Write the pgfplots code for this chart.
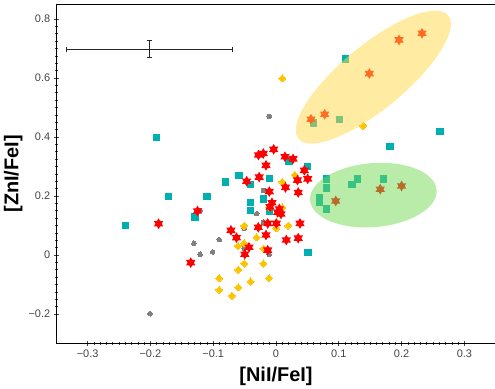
\documentclass[border=0pt]{standalone}
\usepackage{pgfplots}
\pgfplotsset{compat=1.18}
\usepackage{fontspec}
\setmainfont{Liberation Sans}
\usetikzlibrary{shapes.geometric}
\definecolor{cteal}{RGB}{0,176,176}
\definecolor{cgold}{RGB}{255,196,0}
\definecolor{cgray}{RGB}{128,128,128}
\definecolor{cred}{RGB}{255,0,0}
\definecolor{cyel}{RGB}{255,217,70}
\definecolor{cgrn}{RGB}{113,217,81}
\definecolor{ticklab}{RGB}{68,68,68}
\pgfdeclareplotmark{hexstar}{%
  \pgfpathmoveto{\pgfqpoint{0pt}{\pgfplotmarksize}}%
  \pgfpathlineto{\pgfqpoint{-0.288675\pgfplotmarksize}{0.5\pgfplotmarksize}}%
  \pgfpathlineto{\pgfqpoint{-0.866025\pgfplotmarksize}{0.5\pgfplotmarksize}}%
  \pgfpathlineto{\pgfqpoint{-0.57735\pgfplotmarksize}{0pt}}%
  \pgfpathlineto{\pgfqpoint{-0.866025\pgfplotmarksize}{-0.5\pgfplotmarksize}}%
  \pgfpathlineto{\pgfqpoint{-0.288675\pgfplotmarksize}{-0.5\pgfplotmarksize}}%
  \pgfpathlineto{\pgfqpoint{0pt}{-\pgfplotmarksize}}%
  \pgfpathlineto{\pgfqpoint{0.288675\pgfplotmarksize}{-0.5\pgfplotmarksize}}%
  \pgfpathlineto{\pgfqpoint{0.866025\pgfplotmarksize}{-0.5\pgfplotmarksize}}%
  \pgfpathlineto{\pgfqpoint{0.57735\pgfplotmarksize}{0pt}}%
  \pgfpathlineto{\pgfqpoint{0.866025\pgfplotmarksize}{0.5\pgfplotmarksize}}%
  \pgfpathlineto{\pgfqpoint{0.288675\pgfplotmarksize}{0.5\pgfplotmarksize}}%
  \pgfpathclose
  \pgfusepathqfill
}
\begin{document}
\begin{tikzpicture}
\begin{axis}[
  at={(56.2bp,45.5bp)}, anchor=south west,
  scale only axis, width=439.6bp, height=339.25bp,
  xmin=-0.35, xmax=0.35, ymin=-0.3, ymax=0.85,
  xtick={-0.3,-0.2,-0.1,0,0.1,0.2,0.3},
  xticklabels={−0.3,−0.2,−0.1,0,0.1,0.2,0.3},
  ytick={-0.2,0,0.2,0.4,0.6,0.8},
  yticklabels={−0.2,0,0.2,0.4,0.6,0.8},
  minor x tick num=9, minor y tick num=7,
  xtick pos=bottom, ytick pos=left,
  tick align=center,
  major tick length=5bp, minor tick length=3bp,
  tick style={black!75, line width=0.6bp},
  ticklabel style={font=\fontsize{11}{13}\selectfont, text=ticklab},
  axis line style={black, line width=0.8bp},
  xlabel={[NiI/FeI]}, ylabel={[ZnI/FeI]},
  label style={font=\bfseries\fontsize{20}{24}\selectfont},
  xlabel style={at={(axis description cs:0.5,-0.0973)}, anchor=center},
  ylabel style={at={(axis description cs:-0.0978,0.5)}, anchor=center},
]
% error bar
\addplot[draw=none, mark=none, forget plot,
  error bars/.cd, x dir=both, x explicit, y dir=both, y explicit,
  error mark=|,
  error bar style={draw=black!85, line width=0.9bp},
  error mark options={draw=black!85, mark size=2.8bp, line width=0.9bp}]
  coordinates {(-0.2015,0.697) +- (0.1315,0.029)};
% gray circles
\addplot[only marks, mark=*, mark size=2.3bp, color=cgray, mark options={line width=0pt}]
coordinates {(-0.0107,0.470) (-0.0199,0.219) (-0.0307,0.140) (-0.0202,0.111) (-0.0506,0.0905) (-0.121,0.151) (-0.0903,0.0519) (-0.1306,0.0397) (-0.1008,0.0102) (-0.121,0.0024) (-0.0506,0.022) (-0.0107,0.0017) (-0.2006,-0.199) (0.069,0.183)};
% teal squares
\addplot[only marks, mark=square*, mark size=3.2bp, color=cteal, mark options={line width=0pt}]
coordinates {(-0.190,0.398) (-0.0591,0.269) (-0.080,0.248) (-0.0403,0.238) (-0.010,0.259) (-0.171,0.198) (-0.110,0.198) (-0.0196,0.190) (-0.0403,0.177) (-0.0403,0.150) (-0.0104,0.149) (-0.129,0.129) (-0.240,0.099) (0.0207,0.319) (0.0506,0.299) (0.051,0.0078) (0.261,0.418) (0.1815,0.367) (0.111,0.665) (0.1014,0.459) (0.060,0.448) (0.0807,0.258) (0.130,0.258) (0.1715,0.258) (0.121,0.238) (0.0807,0.227) (0.0696,0.195) (0.0696,0.177) (0.0807,0.156)};
% gold diamonds
\addplot[only marks, mark=square*, mark size=2.5bp, color=cgold, mark options={rotate=45, line width=0pt}]
coordinates {(0.0100,0.599) (0.139,0.438) (0.0298,0.271) (0.0100,0.248) (-0.0104,0.161) (0.0100,0.161) (-0.0506,0.0993) (0.0005,0.0908) (0.0194,0.0993) (-0.0307,0.060) (-0.0602,0.0305) (-0.0506,0.0397) (-0.0202,0.0214) (-0.0506,-0.0288) (-0.0202,-0.0288) (-0.0602,-0.0498) (-0.0903,-0.0786) (-0.0107,-0.0786) (-0.0403,-0.0898) (-0.0903,-0.1186) (-0.0602,-0.110) (-0.0701,-0.138)};
% red stars
\addplot[only marks, mark=hexstar, mark size=5.4bp, color=cred]
coordinates {(-0.0279,0.339) (-0.0202,0.344) (-0.0037,0.358) (0.0143,0.333) (0.0271,0.326) (-0.0159,0.304) (0.0451,0.287) (0.0505,0.258) (0.0342,0.254) (-0.0268,0.264) (-0.0467,0.250) (0.0151,0.229) (0.0354,0.212) (-0.0107,0.215) (-0.0064,0.177) (-0.0096,0.163) (0.0053,0.156) (0.0027,0.145) (0.0080,0.139) (-0.125,0.149) (-0.187,0.106) (0.0382,0.107) (-0.0282,0.0939) (-0.0132,0.107) (0.0005,0.107) (-0.0717,0.0837) (-0.0629,0.0586) (-0.0159,0.0678) (0.0164,0.0508) (0.0354,0.057) (-0.043,0.0261) (-0.0497,0.0027) (-0.0132,0.0163) (-0.1358,-0.0261) (0.2325,0.7515) (0.1959,0.729) (0.1486,0.615) (0.0775,0.477) (0.0557,0.460) (0.0951,0.183) (0.166,0.223) (0.200,0.234)};
\coordinate (yc) at (axis cs:0.155,0.603);
\coordinate (gc) at (axis cs:0.155,0.203);
\end{axis}
% translucent ellipses on top of the points
\node[ellipse, draw=none, fill=cyel, fill opacity=0.5, minimum width=194bp, minimum height=64bp, inner sep=0pt, outer sep=0pt, rotate=39.5] at (yc) {};
\node[ellipse, draw=none, fill=cgrn, fill opacity=0.5, minimum width=127bp, minimum height=64bp, inner sep=0pt, outer sep=0pt, rotate=4.75] at (gc) {};
\pgfresetboundingbox
\path[use as bounding box] (0,0) rectangle (495bp,389bp);
\end{tikzpicture}
\end{document}
